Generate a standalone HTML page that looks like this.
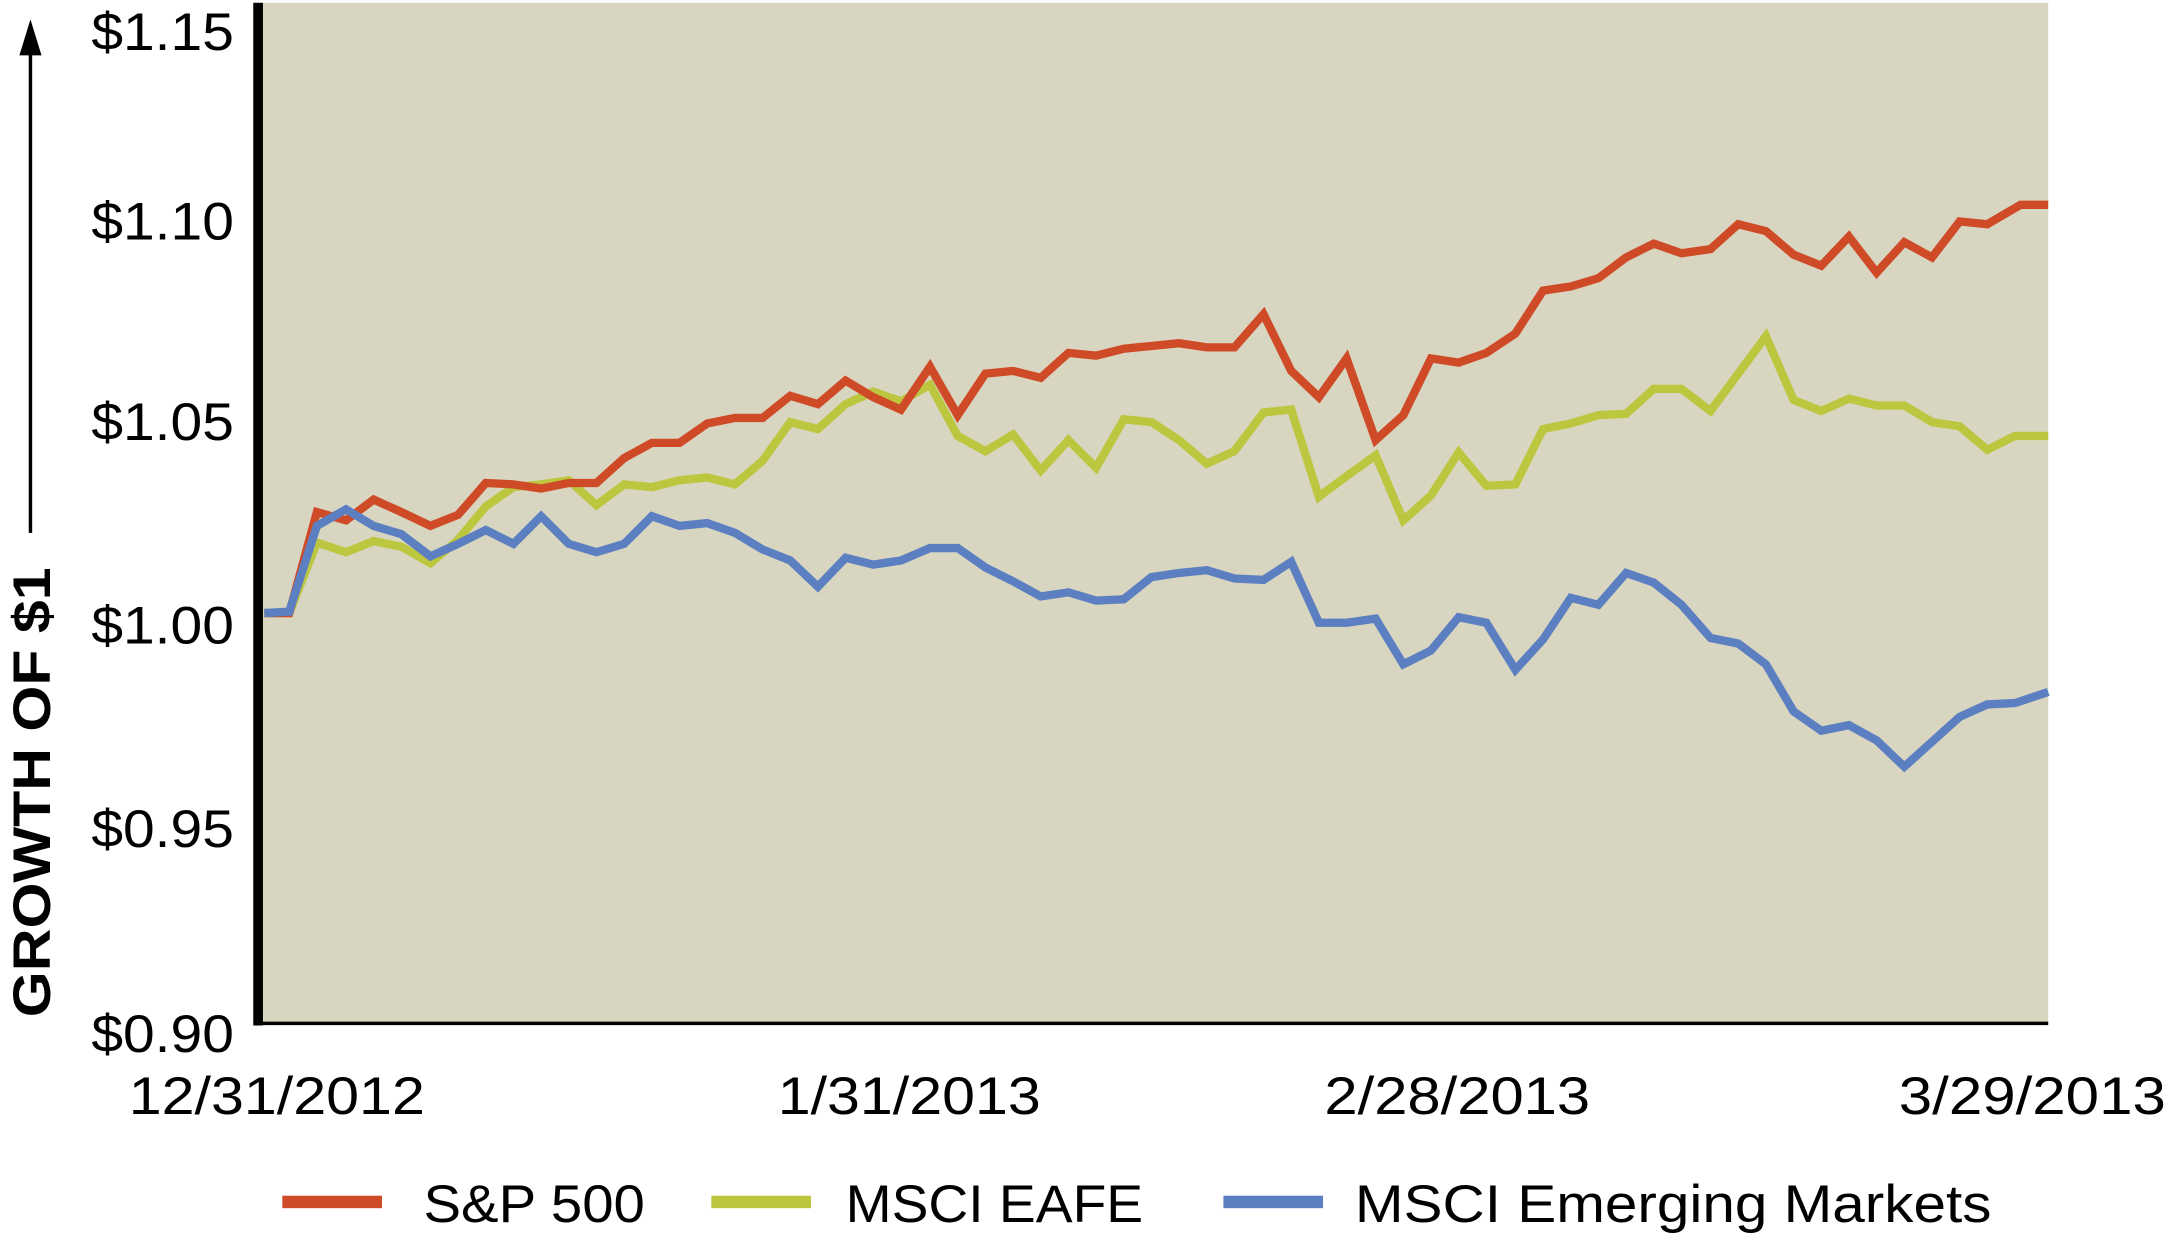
<!DOCTYPE html>
<html><head><meta charset="utf-8"><style>
html,body{margin:0;padding:0;background:#fff;width:2170px;height:1240px;overflow:hidden}
svg{display:block}
text{font-family:"Liberation Sans",sans-serif;fill:#000}
</style></head><body>
<svg width="2170" height="1240" viewBox="0 0 1568 896" preserveAspectRatio="none">
<rect x="189" y="2" width="1291" height="738" fill="#d8d6c1"/>
<line x1="186" y1="739.5" x2="1480" y2="739.5" stroke="#000" stroke-width="2.5"/>
<rect x="183" y="2" width="7" height="739" fill="#000"/>
<g font-size="38" text-anchor="end" lengthAdjust="spacingAndGlyphs">
<text x="169" y="36" textLength="103" lengthAdjust="spacingAndGlyphs">$1.15</text>
<text x="169" y="173" textLength="103" lengthAdjust="spacingAndGlyphs">$1.10</text>
<text x="169" y="318" textLength="103" lengthAdjust="spacingAndGlyphs">$1.05</text>
<text x="169" y="465" textLength="103" lengthAdjust="spacingAndGlyphs">$1.00</text>
<text x="169" y="612" textLength="103" lengthAdjust="spacingAndGlyphs">$0.95</text>
<text x="169" y="760" textLength="103" lengthAdjust="spacingAndGlyphs">$0.90</text>
</g>
<g font-size="38">
<text x="93" y="805" textLength="214" lengthAdjust="spacingAndGlyphs">12/31/2012</text>
<text x="562" y="805" textLength="190" lengthAdjust="spacingAndGlyphs">1/31/2013</text>
<text x="957" y="805" textLength="192" lengthAdjust="spacingAndGlyphs">2/28/2013</text>
<text x="1372" y="805" textLength="193" lengthAdjust="spacingAndGlyphs">3/29/2013</text>
</g>
<line x1="22" y1="385" x2="22" y2="36" stroke="#000" stroke-width="2.5"/>
<polygon points="14,40 30,40 22,14" fill="#000"/>
<text transform="translate(36,735) rotate(-90)" font-size="38" font-weight="bold" textLength="325" lengthAdjust="spacingAndGlyphs">GROWTH OF $1</text>
<g fill="none" stroke-width="6" stroke-linejoin="miter">
<polyline stroke="#bcc63e" points="191,443 209,443 229,392 250,399 270,391 290,395 311,407 331,390 351,366 371,352 391,350 411,347 431,365 451,350 471,352 491,347 511,345 531,350 551,333 571,305 591,310 611,292 631,283 651,290 672,278 692,315 712,326 732,314 752,340 772,318 792,338 812,303 832,305 852,318 872,335 892,326 913,298 933,296 953,359 973,344 994,329 1014,376 1034,358 1054,327 1074,351 1095,350 1115,310 1135,306 1155,300 1175,299 1195,281 1215,281 1236,297 1256,270 1276,243 1296,289 1316,297 1336,288 1356,293 1376,293 1396,305 1416,308 1436,325 1456,315 1480,315"/>
<polyline stroke="#cf4a26" points="191,443 209,443 229,370 250,376 270,361 290,370 311,380 331,372 351,349 371,350 391,353 411,349 431,349 451,331 471,320 491,320 511,306 531,302 551,302 571,286 591,292 611,275 631,287 651,296 672,265 692,300 712,270 732,268 752,273 772,255 792,257 812,252 832,250 852,248 872,251 892,251 913,227 933,268 953,287 973,259 994,318 1014,300 1034,259 1054,262 1074,255 1095,241 1115,210 1135,207 1155,201 1175,186 1195,176 1215,183 1236,180 1256,162 1276,167 1296,184 1316,192 1336,171 1356,197 1376,175 1396,186 1416,160 1436,162 1460,148 1480,148"/>
<polyline stroke="#5b7fc0" points="191,443 209,442 229,380 250,368 270,380 290,386 311,402 331,393 351,383 371,393 391,373 411,393 431,399 451,393 471,373 491,380 511,378 531,385 551,397 571,405 591,424 611,403 631,408 651,405 672,396 692,396 712,410 732,420 752,431 772,428 792,434 812,433 832,417 852,414 872,412 892,418 913,419 933,406 953,450 973,450 994,447 1014,480 1034,470 1054,446 1074,450 1095,484 1115,462 1135,432 1155,437 1175,414 1195,421 1215,437 1236,461 1256,465 1276,480 1296,514 1316,528 1336,524 1356,535 1376,554 1396,536 1416,518 1436,509 1456,508 1480,500"/>
</g>
<rect x="204" y="864" width="72" height="9" fill="#cf4a26"/>
<rect x="514" y="864" width="72" height="9" fill="#bcc63e"/>
<rect x="884" y="864" width="72" height="9" fill="#5b7fc0"/>
<g font-size="38">
<text x="306" y="883" textLength="160" lengthAdjust="spacingAndGlyphs">S&amp;P 500</text>
<text x="611" y="883" textLength="215" lengthAdjust="spacingAndGlyphs">MSCI EAFE</text>
<text x="979" y="883" textLength="460" lengthAdjust="spacingAndGlyphs">MSCI Emerging Markets</text>
</g>
</svg>
</body></html>
